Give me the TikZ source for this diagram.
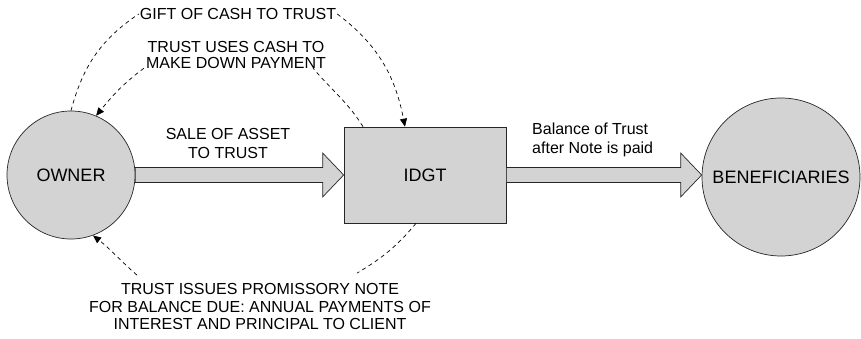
\documentclass[tikz,border=0pt]{standalone}
\usepackage{fontspec}
\setmainfont{Liberation Sans}
\usetikzlibrary{arrows.meta}
\definecolor{boxgray}{HTML}{D3D3D3}

\tikzset{
  party/.style={circle, draw=black!85, fill=boxgray, line width=0.7pt,
    inner sep=0pt, font=\fontsize{18}{20}\selectfont},
  trustbox/.style={rectangle, draw=black!85, fill=boxgray, line width=0.7pt,
    minimum width=162pt, minimum height=96pt, font=\fontsize{18}{20}\selectfont},
  tag/.style={align=center, inner sep=1pt, fill=white},
  flow/.style={line width=0.7pt, dash pattern=on 4pt off 3.5pt},
  flowtip/.style={flow, -{Triangle[length=8pt,width=7pt]}},
  fatarrow/.style={draw=black!85, fill=boxgray, line width=0.7pt, line join=miter}
}

% wide hollow arrow from #1 to the tip #2
\newcommand{\bigflow}[2]{%
  \draw[fatarrow] ([yshift=7.5pt]#1) -- ([shift={(-21pt,7.5pt)}]#2)
    -- ([shift={(-21pt,22pt)}]#2) -- (#2) -- ([shift={(-21pt,-22pt)}]#2)
    -- ([shift={(-21pt,-7.5pt)}]#2) -- ([yshift=-7.5pt]#1) -- cycle;}

\begin{document}
\begin{tikzpicture}[x=1pt,y=-1pt]
  \useasboundingbox (0,0) rectangle (861,339);

  % parties
  \node[party, minimum size=128pt] (owner) at (71,175) {OWNER};
  \node[trustbox] (idgt) at (425,175) {IDGT};
  \node[party, minimum size=158pt] (benef) at (781,177) {BENEFICIARIES};
  \coordinate (tipb) at (idgt.east -| benef.west);

  % wide arrows
  \bigflow{owner.east}{idgt.west}
  \bigflow{idgt.east}{tipb}

  % labels
  \node[tag, font=\fontsize{16}{17.5}\selectfont] (gift) at (238,14) {GIFT OF CASH TO TRUST};
  \node[tag, font=\fontsize{16}{15.7}\selectfont] (uses) at (236,55) {TRUST USES CASH TO\\MAKE DOWN PAYMENT};
  \node[tag, font=\fontsize{16}{19}\selectfont] (sale) at (228,143) {SALE OF ASSET\\TO TRUST};
  \node[tag, align=left, anchor=west, font=\fontsize{16}{18.5}\selectfont] (bal) at (531,140)
    {Balance of Trust\\after Note is paid};
  \node[tag, font=\fontsize{16}{17.5}\selectfont] (note) at (260,306.5)
    {TRUST ISSUES PROMISSORY NOTE\\FOR BALANCE DUE: ANNUAL PAYMENTS OF\\INTEREST AND PRINCIPAL TO CLIENT};

  % dashed cash and note flows
  \draw[flow] (owner.north) to[out=75,in=214] (gift.west);
  \draw[flowtip] (gift.east) to[out=-37,in=101] ([xshift=-20pt]idgt.north);
  \draw[flow] ([xshift=-62pt]idgt.north) to[out=122,in=-50] ([shift={(-14pt,1.5pt)}]uses.south east);
  \draw[flowtip] ([shift={(-1pt,1.5pt)}]uses.south west) to[out=217,in=51] (owner.67);
  \draw[flow] ([xshift=-9pt]idgt.south) to[out=-130,in=31] ([shift={(97pt,9pt)}]note.north);
  \draw[flowtip] ([shift={(-123pt,7pt)}]note.north) to[out=139,in=-38] (owner.-70);
\end{tikzpicture}
\end{document}
